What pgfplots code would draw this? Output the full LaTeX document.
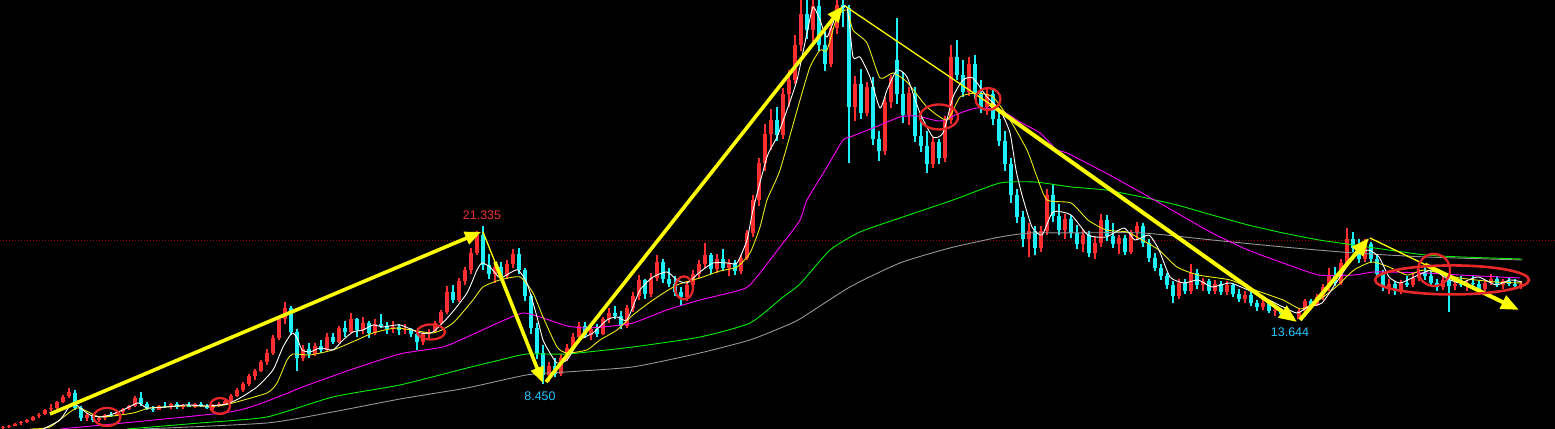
\documentclass[border=0pt]{standalone}
\usepackage{pgfplots}
\pgfplotsset{compat=1.18}
\usepackage{pgfplotstable}
\usetikzlibrary{arrows.meta}
\usepackage{fontspec}
\setmainfont{Liberation Sans}
\definecolor{cred}{RGB}{255,45,45}
\definecolor{ccyan}{RGB}{30,240,250}
\definecolor{lblue}{RGB}{40,200,255}
\definecolor{lred}{RGB}{235,50,50}
\definecolor{yel}{RGB}{255,255,0}
\definecolor{ma10}{RGB}{235,235,20}
\definecolor{mag}{RGB}{255,0,255}
\definecolor{mgreen}{RGB}{0,240,0}
\definecolor{mgray}{RGB}{150,150,150}
\definecolor{dred}{RGB}{150,10,10}
\definecolor{ered}{RGB}{230,40,40}
\pgfplotstableread{
x o h l c
3 4.85 5.02 4.80 4.96
9 4.96 5.10 4.90 5.04
15 5.04 5.28 5.00 5.20
21 5.25 5.42 5.12 5.36
27 5.36 5.62 5.30 5.50
33 5.55 5.85 5.45 5.80
39 5.85 6.10 5.70 5.95
45 6.00 6.45 5.95 6.35
51 6.40 6.80 6.25 6.50
57 6.50 7.05 6.40 6.95
63 7.00 7.55 6.90 7.40
69 7.45 8.12 7.30 7.80
75 7.70 7.95 6.30 6.50
81 6.50 6.70 5.40 5.70
87 5.70 6.10 5.45 5.90
93 5.90 6.00 5.35 5.50
99 5.50 5.75 5.35 5.65
105 5.65 6.00 5.55 5.95
111 5.95 6.15 5.80 5.90
117 5.90 6.25 5.85 6.15
123 6.15 6.50 6.05 6.40
129 6.40 6.75 6.30 6.65
135 6.70 7.45 6.60 7.30
141 7.30 7.80 6.70 6.85
147 6.85 7.00 6.30 6.45
153 6.45 6.70 6.20 6.35
159 6.35 6.75 6.30 6.65
165 6.65 6.95 6.50 6.60
171 6.60 6.90 6.45 6.80
177 6.80 6.95 6.45 6.55
183 6.55 6.85 6.45 6.75
189 6.75 6.95 6.55 6.60
195 6.60 6.90 6.50 6.80
201 6.80 7.00 6.55 6.65
207 6.65 6.85 6.40 6.50
213 6.50 6.80 6.35 6.70
219 6.70 6.95 6.55 6.85
225 6.85 7.20 6.75 7.10
231 7.10 7.60 7.00 7.50
237 7.50 8.10 7.40 7.95
243 7.95 8.60 7.80 8.45
249 8.45 9.30 8.30 9.10
255 9.10 9.70 8.80 9.50
261 9.50 10.40 9.40 10.20
267 10.20 11.30 10.00 11.00
273 11.00 12.40 10.80 12.20
279 12.20 14.00 12.00 13.70
285 13.70 15.10 13.30 14.60
291 14.60 14.80 12.40 12.70
297 12.70 12.90 9.50 10.60
303 10.60 11.60 10.30 11.30
309 11.30 11.80 10.60 10.90
315 10.90 11.80 10.70 11.50
321 11.50 12.00 11.00 11.20
327 11.20 12.60 11.10 12.30
333 12.30 12.60 11.70 11.90
339 11.90 13.20 11.80 13.00
345 13.00 13.60 12.30 12.70
351 12.70 14.20 12.60 13.70
357 13.70 13.80 12.30 12.80
363 12.80 13.90 12.50 13.40
369 13.40 13.60 12.20 12.60
375 12.60 13.70 12.40 13.30
381 13.30 14.10 13.00 13.20
387 13.20 13.50 12.50 12.90
393 12.90 13.60 12.60 13.10
399 13.10 13.30 12.40 12.80
405 12.80 13.30 12.50 12.90
411 12.90 13.00 12.30 12.50
417 12.50 12.70 11.20 11.90
423 11.90 12.70 11.60 12.50
429 12.50 12.90 12.20 12.70
435 12.70 13.60 12.60 13.40
441 13.40 14.50 13.30 14.30
447 14.30 16.40 14.10 15.90
453 15.90 16.50 15.00 15.30
459 15.30 17.10 15.10 16.80
465 16.80 18.00 16.50 17.70
471 17.70 19.50 17.40 19.10
477 19.10 20.90 18.90 20.60
483 20.60 21.335 17.70 18.10
489 18.10 19.00 17.00 17.40
495 17.40 18.30 16.70 18.00
501 18.00 18.40 16.90 17.20
507 17.20 18.50 17.00 18.20
513 18.20 19.40 17.90 19.00
519 19.00 19.50 17.40 17.70
525 17.70 17.90 15.20 15.60
531 15.60 15.80 12.50 13.00
537 13.00 13.40 10.50 11.00
543 11.00 11.60 8.45 9.20
549 9.20 10.20 8.60 9.90
555 9.90 10.60 9.00 9.30
561 9.30 10.90 9.10 10.60
567 10.60 11.70 10.30 11.40
573 11.40 12.60 11.10 12.30
579 12.30 13.50 12.00 13.20
585 13.20 13.50 12.20 12.40
591 12.40 13.20 12.00 12.90
597 12.90 13.30 12.30 12.50
603 12.50 13.90 12.40 13.70
609 13.70 14.60 13.40 14.20
615 14.20 14.80 13.70 14.00
621 14.00 14.40 12.90 13.20
627 13.20 14.90 13.00 14.60
633 14.60 15.90 14.30 15.60
639 15.60 17.30 15.30 16.90
645 16.90 17.00 15.40 15.80
651 15.80 17.50 15.50 17.10
657 17.10 18.90 16.80 18.40
663 18.40 18.60 16.70 17.00
669 17.00 17.90 16.30 16.60
675 16.60 17.20 15.60 15.90
681 15.90 16.30 14.80 15.50
687 15.50 16.80 15.20 16.50
693 16.50 17.70 16.30 17.40
699 17.40 18.50 17.10 18.20
705 18.20 19.90 17.90 18.90
711 18.90 19.10 17.40 17.80
717 17.80 19.00 17.50 18.60
723 18.60 19.40 17.60 17.90
729 17.90 18.60 17.20 18.30
735 18.30 18.50 17.30 17.60
741 17.60 18.90 17.40 18.70
747 18.70 21.00 18.50 20.70
753 20.70 23.80 20.40 23.40
759 23.40 26.80 22.90 26.40
765 26.40 29.60 25.80 28.80
771 28.80 30.80 27.50 29.90
777 29.90 31.00 28.20 28.70
783 28.70 32.50 28.40 32.00
789 32.00 34.00 31.00 33.20
795 33.20 36.80 32.80 36.00
801 36.00 39.90 35.50 38.50
807 38.50 39.90 36.50 37.20
813 37.20 39.90 36.20 39.20
819 39.20 39.90 35.50 36.00
825 36.00 37.20 33.90 34.50
831 34.50 37.80 34.20 37.40
837 37.40 39.90 36.90 39.30
843 39.30 39.90 37.50 39.00
849 39.00 39.30 26.40 31.00
855 31.00 33.50 29.80 32.80
861 32.80 34.10 30.00 30.50
867 30.50 33.00 30.20 32.60
873 32.60 33.40 27.90 28.40
879 28.40 29.00 26.60 27.40
885 27.40 31.80 27.10 31.40
891 31.40 33.60 30.90 33.30
897 34.80 38.20 31.20 32.00
903 32.00 33.80 29.70 30.30
909 30.30 32.60 29.50 32.10
915 32.10 32.60 28.10 28.60
921 28.60 30.20 27.30 27.80
927 27.80 29.00 25.60 26.30
933 26.30 28.50 26.00 28.10
939 28.10 28.40 26.30 26.80
945 26.80 30.20 26.50 29.90
951 29.90 36.00 29.60 35.00
957 35.00 36.40 33.20 33.60
963 33.60 34.80 31.80 32.20
969 32.20 35.00 31.90 34.50
975 34.50 35.20 31.60 32.00
981 32.00 33.20 30.50 31.00
987 31.00 32.50 30.30 32.00
993 32.00 32.40 29.50 30.00
999 30.00 30.80 27.80 28.20
1005 28.20 29.00 25.80 26.30
1011 26.30 26.80 23.20 23.80
1017 23.80 24.30 21.50 22.00
1023 22.00 22.50 19.60 20.20
1029 20.20 21.50 18.80 20.90
1035 20.90 21.30 18.90 19.50
1041 19.50 21.30 19.20 20.90
1047 20.90 24.30 20.60 23.80
1053 23.80 24.60 21.60 22.10
1059 22.10 23.10 20.60 21.00
1065 21.00 22.30 20.20 21.90
1071 21.90 22.20 20.30 20.70
1077 20.70 21.40 19.40 19.80
1083 19.80 21.00 19.20 20.60
1089 20.60 20.90 18.80 19.10
1095 19.10 20.40 18.60 19.90
1101 19.90 22.30 19.60 21.80
1107 21.80 22.20 20.10 20.50
1113 20.50 21.50 19.50 19.80
1119 19.80 20.60 19.00 20.30
1125 20.30 20.60 18.90 19.20
1131 19.20 21.00 19.00 20.80
1137 20.80 21.60 20.20 21.30
1143 21.30 21.50 19.60 19.90
1149 19.90 20.20 18.40 18.70
1155 18.70 19.10 17.60 17.90
1161 17.90 18.20 16.90 17.20
1167 17.20 17.50 16.20 16.50
1173 16.50 16.80 15.00 15.60
1179 15.60 17.00 15.40 16.70
1185 16.70 17.00 15.80 16.00
1191 16.00 18.20 15.80 17.50
1197 17.50 17.80 16.20 16.50
1203 16.50 17.10 16.00 16.80
1209 16.80 17.00 15.80 16.00
1215 16.00 16.90 15.80 16.60
1221 16.60 16.80 15.70 15.90
1227 15.90 16.80 15.70 16.50
1233 16.50 16.70 15.50 15.80
1239 15.80 16.20 15.10 15.40
1245 15.40 16.00 15.00 15.70
1251 15.70 15.90 14.80 15.00
1257 15.00 15.30 14.40 14.70
1263 14.70 15.30 14.50 15.00
1269 15.00 15.10 14.20 14.40
1275 14.40 14.80 14.00 14.50
1281 14.50 14.60 13.90 14.10
1287 14.10 14.30 13.70 13.85
1293 13.85 14.00 13.644 13.75
1299 13.75 14.60 13.70 14.40
1305 14.40 15.40 14.30 15.20
1311 15.20 15.40 14.70 14.90
1317 14.90 15.80 14.80 15.50
1323 15.50 16.60 15.30 16.30
1329 16.30 17.90 16.00 17.20
1335 17.20 18.00 16.40 16.70
1341 16.70 18.60 16.50 18.30
1347 18.30 21.10 18.00 20.20
1353 20.20 20.80 19.20 19.50
1359 19.50 20.20 18.30 18.60
1365 18.60 20.20 18.40 19.80
1371 19.80 20.00 18.30 18.60
1377 18.60 18.90 17.10 17.40
1383 17.40 17.70 16.00 16.30
1389 16.30 17.00 15.80 16.60
1395 16.60 16.80 15.70 16.00
1401 16.00 16.90 15.80 16.70
1407 16.70 17.20 16.30 16.50
1413 16.50 17.40 16.30 17.10
1419 17.10 17.80 16.80 17.50
1425 17.50 18.00 16.90 17.20
1431 17.20 17.60 16.40 16.70
1437 16.70 17.00 16.00 16.30
1443 16.30 17.20 16.10 16.90
1449 16.90 17.10 14.30 16.40
1455 16.40 16.90 16.10 16.60
1461 16.60 17.20 16.30 16.50
1467 16.50 16.90 16.00 16.70
1473 16.70 17.30 16.40 16.60
1479 16.60 16.80 15.90 16.20
1485 16.20 16.90 16.00 16.70
1491 16.70 17.40 16.50 17.00
1497 17.00 17.20 16.30 16.50
1503 16.50 17.00 16.20 16.80
1509 16.80 17.10 16.40 16.60
1515 16.60 17.00 16.30 16.40
1521 16.40 16.80 16.20 16.60
}\candles
\begin{document}
\begin{tikzpicture}
\fill[black] (0,0) rectangle (1555bp,429bp);
\begin{axis}[
  scale only axis, width=1555bp, height=429bp,
  xmin=0, xmax=1555, ymin=4.79, ymax=39.67,
  hide axis, clip=true,
  ma/.style={line width=0.9bp, smooth, tension=0.35},
]
% dotted reference line
\addplot[dred, dash pattern=on 1bp off 2bp, line width=0.9bp] coordinates {(0,20.08) (1555,20.08)};
% candles: up (red)
\addplot[cred, line width=1.1bp, -, quiver={u=0, v=\thisrow{h}-\thisrow{l}},
  restrict expr to domain={\thisrow{c}-\thisrow{o}}{0:100}] table[x=x, y=l] {\candles};
\addplot[cred, line width=3.2bp, -, quiver={u=0, v=\thisrow{c}-\thisrow{o}},
  restrict expr to domain={\thisrow{c}-\thisrow{o}}{0:100}] table[x=x, y=o] {\candles};
% candles: down (cyan)
\addplot[ccyan, line width=1.1bp, -, quiver={u=0, v=\thisrow{h}-\thisrow{l}},
  restrict expr to domain={\thisrow{c}-\thisrow{o}}{-100:-0.001}] table[x=x, y=l] {\candles};
\addplot[ccyan, line width=3.2bp, -, quiver={u=0, v=\thisrow{o}-\thisrow{c}},
  restrict expr to domain={\thisrow{c}-\thisrow{o}}{-100:-0.001}] table[x=x, y=c] {\candles};
% moving averages
\addplot[mgray, ma] coordinates {(143,4.79) (267,5.28) (333,6.18) (400,7.23) (467,8.13) (527,9.19) (567,9.43) (633,9.84) (700,10.97) (750,12.03) (783,13.09) (800,13.74) (850,16.34) (900,18.29) (950,19.51) (1000,20.40) (1030,20.73) (1071,20.73) (1142,20.73) (1212,20.16) (1283,19.59) (1354,19.10) (1425,18.78) (1522,18.53)};
\addplot[mgreen, ma] coordinates {(127,4.79) (200,5.28) (267,5.77) (333,7.40) (400,8.37) (467,9.75) (500,10.40) (527,10.89) (567,10.89) (633,11.46) (700,12.27) (750,13.41) (783,15.52) (800,16.58) (830,19.34) (860,20.81) (900,21.95) (953,23.41) (1000,24.79) (1035,24.87) (1071,24.47) (1106,24.22) (1142,23.65) (1177,23.00) (1212,22.19) (1248,21.38) (1283,20.73) (1319,20.16) (1354,19.75) (1389,19.34) (1425,18.94) (1460,18.78) (1522,18.61)};
\addplot[mag, ma] coordinates {(60,4.79) (230,6.18) (283,7.56) (300,8.13) (350,9.59) (400,10.89) (443,11.46) (467,12.27) (500,13.49) (523,14.22) (543,13.82) (567,13.17) (587,13.00) (613,13.17) (633,13.41) (667,14.47) (700,15.28) (733,15.93) (750,16.50) (783,19.91) (800,21.78) (807,23.41) (827,26.09) (843,28.29) (850,28.53) (873,29.26) (900,30.16) (917,30.24) (940,29.83) (960,30.48) (977,30.89) (1000,30.73) (1020,29.75) (1040,28.86) (1057,27.47) (1067,27.23) (1106,25.60) (1142,23.98) (1177,22.35) (1212,20.73) (1248,19.34) (1283,18.29) (1319,17.31) (1354,17.31) (1375,17.56) (1425,17.48) (1460,17.31) (1520,17.07)};
\addplot[ma10, ma] coordinates {(30,4.79) (50,4.96) (77,6.50) (100,5.77) (133,6.09) (150,6.50) (183,6.66) (217,6.66) (233,6.91) (267,7.72) (277,8.53) (287,10.40) (293,10.89) (310,10.81) (333,11.22) (357,12.03) (373,12.60) (397,13.00) (433,12.60) (453,13.41) (473,15.28) (483,16.34) (500,16.91) (520,17.15) (533,15.85) (543,13.90) (557,11.46) (567,10.97) (587,11.22) (600,12.03) (617,12.84) (633,14.06) (653,15.28) (677,16.50) (700,17.07) (720,17.64) (737,17.96) (750,19.10) (760,21.21) (767,23.41) (780,25.85) (800,31.54) (810,34.22) (820,35.60) (827,35.60) (837,38.29) (847,38.86) (853,37.23) (867,36.17) (880,33.33) (893,33.74) (907,33.00) (927,30.97) (947,29.91) (960,31.78) (977,32.11) (993,31.78) (1010,29.91) (1027,27.47) (1037,25.28) (1047,23.41) (1071,23.17) (1088,21.78) (1106,20.97) (1127,20.81) (1142,20.16) (1159,19.34) (1177,17.96) (1198,17.31) (1230,16.91) (1255,16.09) (1283,15.28) (1301,14.55) (1319,15.28) (1336,16.34) (1354,17.72) (1372,18.37) (1389,17.96) (1407,17.31) (1425,17.72) (1460,17.07) (1496,16.74) (1522,16.66)};
\addplot[white, ma] coordinates {(43,4.79) (60,5.53) (72,6.91) (80,6.50) (90,5.93) (100,5.77) (110,5.93) (123,6.34) (138,6.91) (147,6.50) (167,6.58) (187,6.75) (207,6.66) (227,6.83) (240,7.31) (257,8.21) (273,9.59) (283,11.46) (292,12.60) (297,12.19) (302,11.22) (310,11.05) (320,11.38) (333,11.22) (343,12.03) (353,12.68) (363,12.84) (373,13.25) (383,13.09) (400,13.25) (420,12.60) (433,12.68) (450,14.06) (467,15.85) (477,17.72) (482,18.29) (490,17.96) (500,17.07) (510,17.48) (518,17.72) (527,16.66) (537,13.90) (543,12.03) (550,10.97) (557,10.16) (567,10.40) (580,12.03) (593,12.60) (607,13.66) (617,13.90) (627,13.66) (640,16.09) (653,17.15) (667,17.56) (677,16.91) (687,16.66) (700,17.56) (713,18.29) (727,18.29) (737,18.29) (747,20.16) (753,22.60) (767,26.91) (777,28.53) (787,30.73) (797,33.17) (807,36.99) (813,39.10) (820,38.04) (827,36.66) (837,38.61) (847,39.10) (853,35.04) (860,35.04) (870,33.41) (880,30.89) (887,32.35) (897,33.98) (907,33.41) (920,30.48) (933,28.53) (943,28.86) (953,31.78) (963,33.17) (973,33.33) (987,31.78) (1000,30.73) (1010,28.86) (1016,25.85) (1022,23.82) (1032,21.21) (1042,20.56) (1053,22.43) (1071,22.19) (1088,20.56) (1106,20.40) (1124,21.13) (1135,20.16) (1149,20.56) (1159,19.34) (1170,17.15) (1184,16.66) (1198,16.91) (1212,16.34) (1230,16.66) (1248,16.09) (1265,15.44) (1283,14.71) (1297,14.22) (1308,14.71) (1322,15.04) (1336,16.66) (1354,18.78) (1368,19.34) (1379,18.78) (1389,17.15) (1400,16.66) (1414,17.15) (1432,17.72) (1446,17.07) (1460,16.66) (1478,17.15) (1496,16.50) (1510,16.91) (1522,16.74)};
% trend arrows
\draw[yel, line width=3.6bp, -{Triangle[length=16bp,width=13bp]}] (axis cs:50,6.01) -- (axis cs:481,20.81);
\draw[yel, line width=1.3bp] (axis cs:483,20.81) -- (axis cs:495,18.37);
\draw[yel, line width=3.6bp, -{Triangle[length=16bp,width=13bp]}] (axis cs:495,18.37) -- (axis cs:543,8.53);
\draw[yel, line width=3.6bp, -{Triangle[length=16bp,width=13bp]}] (axis cs:546,8.61) -- (axis cs:843,39.18);
\draw[yel, line width=1.3bp] (axis cs:845,39.18) -- (axis cs:990,31.21);
\draw[yel, line width=4bp, -{Triangle[length=18bp,width=14bp]}] (axis cs:990,31.21) -- (axis cs:1297,13.49);
\draw[yel, line width=4bp, -{Triangle[length=18bp,width=14bp]}] (axis cs:1300,13.66) -- (axis cs:1369,20.32);
\draw[yel, line width=1.3bp] (axis cs:1370,20.32) -- (axis cs:1425,18.16);
\draw[yel, line width=4bp, -{Triangle[length=18bp,width=14bp]}] (axis cs:1425,18.16) -- (axis cs:1519,14.47);
% red ellipses
\draw[ered, line width=2.3bp] (axis cs:107,5.77) ellipse [x radius=13.5bp, y radius=9bp];
\draw[ered, line width=2.3bp] (axis cs:220,6.66) ellipse [x radius=10bp, y radius=8bp];
\draw[ered, line width=2.3bp] (axis cs:431,12.68) ellipse [x radius=14bp, y radius=7.5bp];
\draw[ered, line width=2.3bp] (axis cs:684,16.26) ellipse [x radius=9bp, y radius=11.5bp];
\draw[ered, line width=2.3bp] (axis cs:939,30.16) ellipse [x radius=19bp, y radius=12.5bp];
\draw[ered, line width=2.3bp] (axis cs:988,31.62) ellipse [x radius=12.5bp, y radius=11bp];
\draw[ered, line width=2.3bp] (axis cs:1434,17.72) ellipse [x radius=16bp, y radius=16bp];
\draw[ered, line width=2.6bp] (axis cs:1452,16.91) ellipse [x radius=77bp, y radius=14.5bp];
% labels
\node[text=lred, font=\fontsize{12.5}{14}\selectfont] at (axis cs:482,22.15) {21.335};
\node[text=lblue, font=\fontsize{12.5}{14}\selectfont] at (axis cs:540,7.47) {8.450};
\node[text=lblue, font=\fontsize{12.5}{14}\selectfont] at (axis cs:1290,12.68) {13.644};
\end{axis}
\pgfresetboundingbox
\useasboundingbox (0,0) rectangle (1555bp,429bp);
\end{tikzpicture}
\end{document}
